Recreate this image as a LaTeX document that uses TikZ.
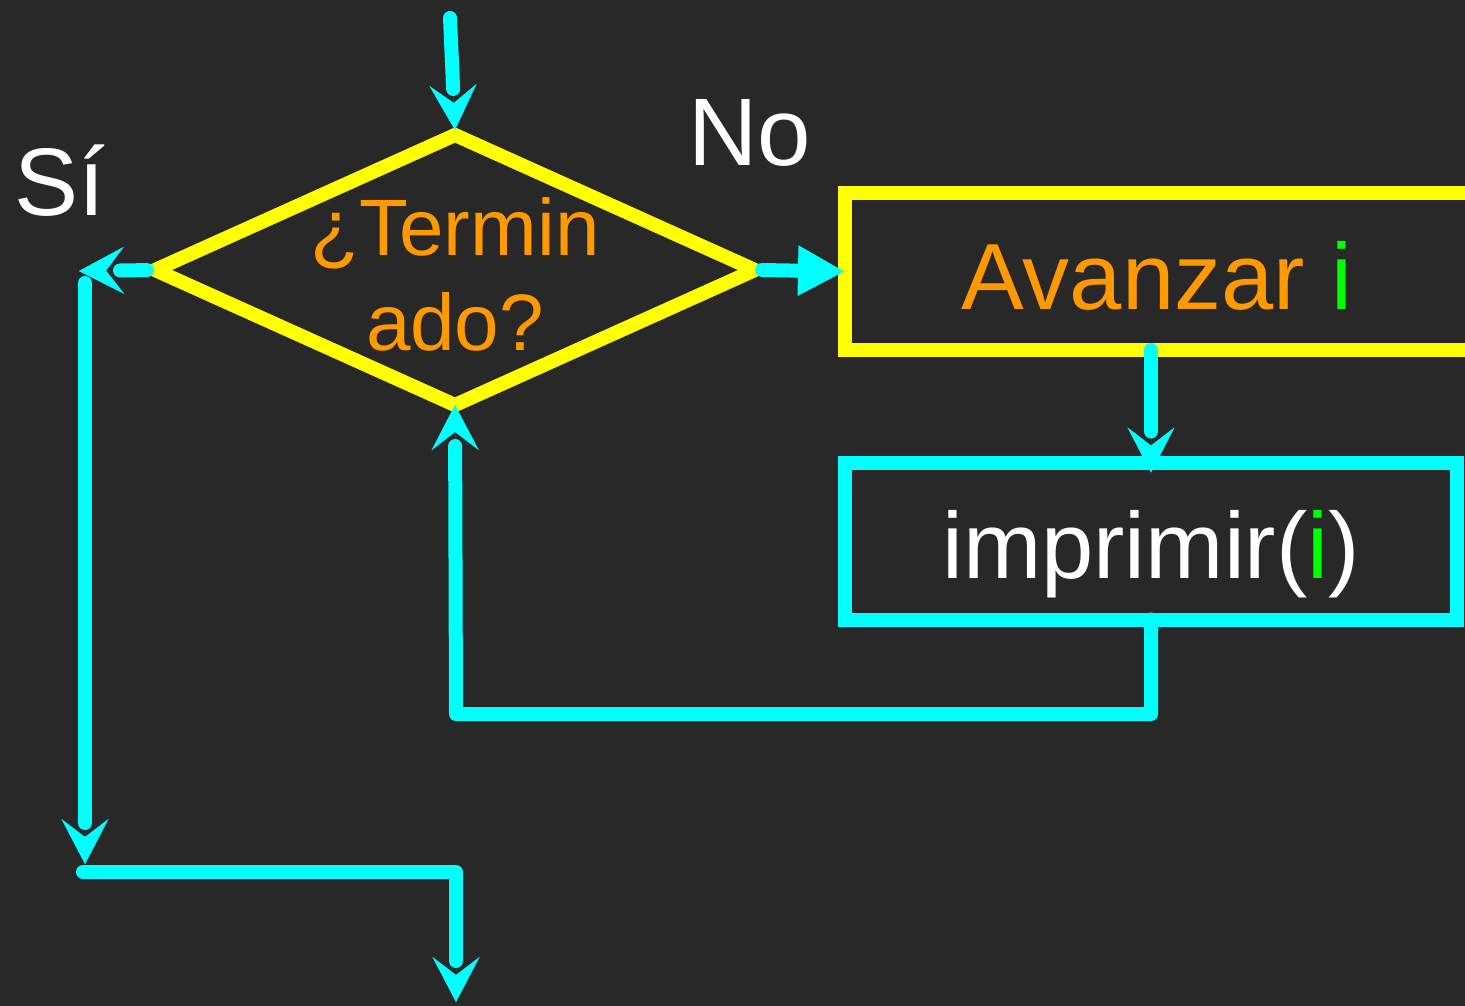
\documentclass[tikz,border=0pt]{standalone}
\usepackage{fontspec}
\setmainfont{Liberation Sans}
\usetikzlibrary{shapes.geometric,arrows.meta}
\definecolor{bg}{HTML}{282828}
\definecolor{flowcyan}{HTML}{00FFFF}
\definecolor{boxyellow}{HTML}{FFFF00}
\definecolor{txtorange}{HTML}{FF9900}
\definecolor{vargreen}{HTML}{00FF00}

\begin{document}
\begin{tikzpicture}[x=1pt,y=-1pt,line width=14pt,
    flow/.style={draw=flowcyan,line cap=round,line join=round},
    tip/.style={shorten >=41pt,postaction={draw=flowcyan,line width=0.01pt,shorten >=0pt,shorten <=0pt,-{Stealth[length=45pt,width=47pt,inset=18pt]}}},
    decision/.style={diamond,draw=boxyellow,minimum width=600pt,minimum height=270pt,inner sep=0pt,outer sep=0pt},
    box/.style={rectangle,inner sep=0pt,outer sep=0pt,minimum height=157pt,text depth=0pt,font=\fontsize{94}{100}\selectfont}]

            \fill[bg] (0,0) rectangle (1465,1006);
            \useasboundingbox (0,0) rectangle (1465,1006);

            \node[decision] (dec) at (455,270) {};
            \node[text=txtorange, align=center, font=\fontsize{80}{95}\selectfont] (declbl) at ([yshift=-4pt]dec.center) {¿Termin\\ado?};
            \node[box, draw=boxyellow, minimum width=650pt, text height=76pt, text=txtorange] (avz) at (1170,271.5) {Avanzar \textcolor{vargreen}{i}\kern26pt};
            \node[box, draw=flowcyan, minimum width=612pt, text height=74pt, text=white] (imp) at (1151,541) {imprimir(\textcolor{vargreen}{i})};
            \node[anchor=base, text=white, font=\fontsize{96}{100}\selectfont] (si) at (60,215) {Sí};
            \node[anchor=base, text=white, font=\fontsize{96}{100}\selectfont] (no) at (750,165) {No};

            \coordinate (in) at (450,18);
            \coordinate (yes) at (79,271);
            \coordinate (ytop) at (85,283);
            \coordinate (ybot) at (85,864);
            \coordinate (b1) at (83,872);
            \coordinate (out) at (456,1002);
            \coordinate (loop) at (456,714);

            \draw[flow,tip] (in) to ([yshift=5pt]dec.north);
            \draw[flow,tip,shorten <=8pt] (dec.west) to (yes);
            \draw[flow,-{Triangle[length=47pt,width=47pt]}] ([xshift=7pt]dec.east) to (avz.west);
            \draw[flow,tip] (avz.south -| imp.south) to ([yshift=-10pt]imp.north);
            \draw[flow,tip] (imp.south) |- (loop) -- (dec.south);
            \draw[flow,tip] (ytop) to (ybot);
            \draw[flow,tip] (b1) -| (out);

            ;
        \end{tikzpicture}
\end{document}
